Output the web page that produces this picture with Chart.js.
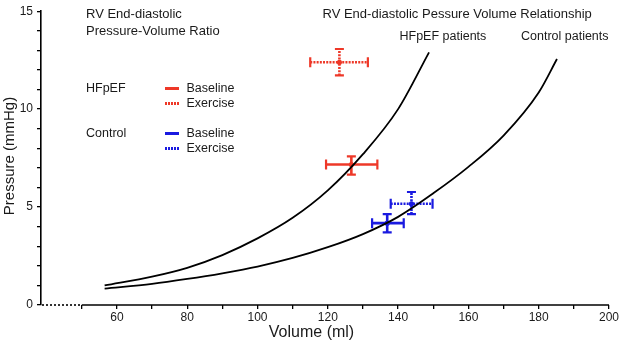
<!DOCTYPE html>
<html>
<head>
<meta charset="utf-8">
<script src="https://cdn.jsdelivr.net/npm/chart.js@4.4.1/dist/chart.umd.min.js"></script>
<style>
  html, body { margin: 0; padding: 0; background: #fff; }
  #wrap { position: relative; width: 620px; height: 343px; }
</style>
</head>
<body>
<div id="wrap"><canvas id="c" width="620" height="343"></canvas></div>
<script>
// ---- Data ----
// RV end-diastolic pressure-volume relationship curves
const hfpefVolume   = [56.5, 70, 80, 90, 100, 110, 120, 130, 140, 148.8];
const hfpefPressure = [1.0, 1.45, 1.9, 2.55, 3.4, 4.45, 5.85, 7.7, 10.0, 12.9];
const controlVolume   = [56.5, 70, 80, 90, 100, 110, 120, 130, 140, 150, 160, 170, 180, 185.2];
const controlPressure = [0.84, 1.08, 1.33, 1.62, 1.96, 2.4, 2.95, 3.62, 4.5, 5.7, 7.05, 8.65, 10.85, 12.56];

// Group means with error ranges (HFpEF baseline, HFpEF exercise, Control baseline, Control exercise)
const groupNames   = ['HFpEF Baseline', 'HFpEF Exercise', 'Control Baseline', 'Control Exercise'];
const meanVolume   = [126.7, 123.3, 136.9, 143.8];
const meanPressure = [7.17, 12.39, 4.18, 5.17];
const volumeLow    = [119.5, 115.0, 132.6, 137.9];
const volumeHigh   = [134.1, 131.4, 141.6, 149.8];
const pressureLow  = [6.66, 11.72, 3.71, 4.64];
const pressureHigh = [7.59, 13.07, 4.64, 5.77];

// Axis ticks
const xTickLabels = [60, 80, 100, 120, 140, 160, 180, 200];
const yTickLabels = [0, 5, 10, 15];

// ---- Styles ----
const RED = '#ee3828';
const BLUE = '#1a1ae0';
const groupColors = [RED, RED, BLUE, BLUE];
const groupDashed = [false, true, false, true];
const FONT = "'Liberation Sans', Arial, Helvetica, sans-serif";
const TXT = '#1a1a1a';

function zip(xs, ys) { return xs.map((x, i) => ({ x: x, y: ys[i] })); }

const datasets = [
  { label: 'HFpEF patients', data: zip(hfpefVolume, hfpefPressure), borderColor: '#000', borderWidth: 1.8,
    pointRadius: 0, cubicInterpolationMode: 'monotone', showLine: true, fill: false },
  { label: 'Control patients', data: zip(controlVolume, controlPressure), borderColor: '#000', borderWidth: 1.8,
    pointRadius: 0, cubicInterpolationMode: 'monotone', showLine: true, fill: false },
];

groupNames.forEach((name, i) => {
  const col = groupColors[i];
  const dash = groupDashed[i] ? [2, 1.2] : [];
  // horizontal error bar (volume)
  datasets.push({
    label: name + ' volume range',
    data: [{ x: volumeLow[i], y: meanPressure[i] }, { x: volumeHigh[i], y: meanPressure[i] }],
    showLine: true, borderColor: col, borderWidth: 2.6, borderDash: dash,
    pointStyle: 'line', rotation: 90, pointRadius: 5, pointBorderWidth: 2.2,
    pointBorderColor: col, pointBackgroundColor: col, pointHoverRadius: 5
  });
  // vertical error bar (pressure)
  datasets.push({
    label: name + ' pressure range',
    data: [{ x: meanVolume[i], y: pressureLow[i] }, { x: meanVolume[i], y: pressureHigh[i] }],
    showLine: true, borderColor: col, borderWidth: 2.6, borderDash: dash,
    pointStyle: 'line', rotation: 0, pointRadius: 4.5, pointBorderWidth: 2.2,
    pointBorderColor: col, pointBackgroundColor: col, pointHoverRadius: 4.5
  });
  // mean point
  datasets.push({
    label: name,
    data: [{ x: meanVolume[i], y: meanPressure[i] }],
    showLine: false, pointStyle: 'circle', pointRadius: 2.6, pointBorderWidth: 0,
    pointBackgroundColor: col, borderColor: col
  });
});

// ---- Custom drawing: axis line with break, axis titles, annotations ----
const decorPlugin = {
  id: 'decor',
  afterDraw(chart) {
    const ctx = chart.ctx;
    const xs = chart.scales.x, ys = chart.scales.y;
    const y0 = ys.getPixelForValue(0);
    const xStart = xs.getPixelForValue(50);
    ctx.save();
    // x axis: dotted break then solid
    ctx.strokeStyle = '#000';
    ctx.lineWidth = 1.6;
    ctx.setLineDash([2, 2]);
    ctx.beginPath(); ctx.moveTo(chart.chartArea.left + 1, y0); ctx.lineTo(xStart, y0); ctx.stroke();
    ctx.setLineDash([]);
    ctx.beginPath(); ctx.moveTo(xStart, y0); ctx.lineTo(xs.getPixelForValue(200), y0); ctx.stroke();

    // axis titles
    ctx.fillStyle = TXT;
    ctx.textBaseline = 'middle';
    ctx.textAlign = 'center';
    ctx.font = '16px ' + FONT;
    ctx.fillText('Volume (ml)', 311.5, 333);
    ctx.save();
    ctx.translate(9.5, 156);
    ctx.rotate(-Math.PI / 2);
    ctx.font = '15px ' + FONT;
    ctx.fillText('Pressure (mmHg)', 0, 0);
    ctx.restore();

    // annotations
    ctx.textAlign = 'left';
    ctx.font = '13px ' + FONT;
    ctx.fillText('RV End-diastolic', 86, 14.5);
    ctx.fillText('Pressure-Volume Ratio', 86, 31);
    ctx.fillText('RV End-diastolic Pessure Volume Relationship', 322.5, 14.5);
    ctx.font = '12.5px ' + FONT;
    ctx.fillText('HFpEF patients', 399.5, 37);
    ctx.fillText('Control patients', 521, 37);

    // legend
    ctx.fillText('HFpEF', 86, 88.5);
    ctx.fillText('Control', 86, 133.5);
    const rows = [
      { y: 88.5, col: RED, dash: false, t: 'Baseline' },
      { y: 103.5, col: RED, dash: true, t: 'Exercise' },
      { y: 133.5, col: BLUE, dash: false, t: 'Baseline' },
      { y: 148.5, col: BLUE, dash: true, t: 'Exercise' },
    ];
    rows.forEach(r => {
      ctx.strokeStyle = r.col;
      ctx.lineWidth = 3;
      ctx.setLineDash(r.dash ? [2, 1] : []);
      ctx.beginPath(); ctx.moveTo(165, r.y); ctx.lineTo(179, r.y); ctx.stroke();
      ctx.setLineDash([]);
      ctx.fillStyle = TXT;
      ctx.fillText(r.t, 186.5, r.y);
    });
    ctx.restore();
  }
};

new Chart(document.getElementById('c'), {
  type: 'scatter',
  data: { datasets: datasets },
  options: {
    responsive: false,
    devicePixelRatio: 1,
    animation: false,
    events: [],
    layout: { padding: { top: 8, right: 11, left: 0, bottom: 0 } },
    plugins: { legend: { display: false }, tooltip: { enabled: false }, title: { display: false } },
    scales: {
      x: {
        type: 'linear', min: 38.4, max: 200,
        afterFit(s) { s.height = 38; },
        border: { display: false },
        grid: {
          drawOnChartArea: false, drawTicks: true, tickLength: 4, lineWidth: 1.3,
          color: c => (c.tick && c.tick.value >= 50) ? '#000' : 'rgba(0,0,0,0)'
        },
        ticks: {
          stepSize: 10, includeBounds: false, autoSkip: false, maxRotation: 0, padding: 1,
          color: TXT, font: { family: FONT, size: 12 },
          callback: v => xTickLabels.includes(v) ? String(v) : ''
        }
      },
      y: {
        type: 'linear', min: 0, max: 15,
        afterFit(s) { s.width = 41; },
        border: { display: true, color: '#000', width: 1.6 },
        grid: { drawOnChartArea: false, drawTicks: true, tickLength: 4, lineWidth: 1.3, color: '#000' },
        ticks: {
          stepSize: 1, autoSkip: false, padding: 4,
          color: TXT, font: { family: FONT, size: 12 },
          callback: v => yTickLabels.includes(v) ? String(v) : ''
        }
      }
    }
  },
  plugins: [decorPlugin]
});
</script>
</body>
</html>
